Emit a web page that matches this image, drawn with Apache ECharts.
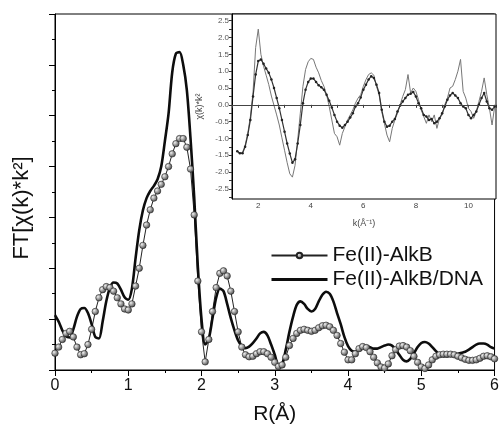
<!DOCTYPE html>
<html><head><meta charset="utf-8">
<script src="https://cdn.jsdelivr.net/npm/echarts@6/dist/echarts.min.js"></script>
<style>html,body{margin:0;padding:0;background:#fff}#c{width:502px;height:435px}</style>
</head><body><div id="c"></div>
<script>
// Main plot: FT magnitude vs R (Å), sampled every 0.05 Å from 0
const rStart = 0, rStep = 0.05;
const alkB = [
0.33,0.45,0.6,0.72,0.76,0.65,0.45,0.3,0.32,0.5,
0.8,1.15,1.42,1.58,1.64,1.62,1.55,1.42,1.3,1.2,
1.18,1.3,1.65,2.0,2.45,2.85,3.15,3.38,3.52,3.65,
3.8,4.0,4.25,4.45,4.55,4.55,4.38,3.95,3.05,1.75,
0.75,0.16,0.6,1.15,1.62,1.9,1.95,1.85,1.55,1.15,
0.75,0.45,0.3,0.26,0.27,0.32,0.36,0.36,0.32,0.25,
0.15,0.07,0.1,0.25,0.48,0.62,0.72,0.78,0.8,0.78,
0.76,0.78,0.83,0.87,0.88,0.85,0.78,0.68,0.52,0.35,
0.2,0.2,0.32,0.42,0.46,0.44,0.36,0.25,0.14,0.06,
0.04,0.12,0.28,0.4,0.47,0.48,0.45,0.38,0.27,0.15,
0.06,0.03,0.1,0.2,0.27,0.3,0.31,0.31,0.31,0.3,
0.27,0.24,0.21,0.19,0.19,0.2,0.23,0.27,0.28,0.26,
0.22];
const alkBDNA = [
1.08,0.95,0.78,0.66,0.64,0.8,1.05,1.2,1.22,1.12,
0.9,0.65,0.62,0.95,1.35,1.62,1.72,1.7,1.58,1.43,
1.38,1.6,2.2,2.75,3.14,3.38,3.52,3.62,3.75,4.0,
4.5,5.04,5.85,6.22,6.25,6.0,5.5,4.55,3.4,2.03,
1.0,0.5,0.62,1.02,1.42,1.6,1.55,1.3,1.02,0.78,
0.58,0.47,0.43,0.46,0.53,0.62,0.72,0.75,0.68,0.5,
0.3,0.1,0.12,0.4,0.75,1.05,1.28,1.35,1.3,1.2,
1.15,1.2,1.35,1.48,1.54,1.5,1.35,1.12,0.9,0.65,
0.47,0.38,0.36,0.4,0.45,0.47,0.45,0.42,0.42,0.45,
0.48,0.5,0.48,0.4,0.3,0.2,0.17,0.22,0.33,0.45,
0.53,0.55,0.52,0.45,0.37,0.3,0.27,0.27,0.29,0.3,
0.32,0.34,0.36,0.4,0.45,0.5,0.52,0.52,0.5,0.45,
0.42];
// Inset: chi(k)*k^2 vs k, sampled every 0.1 from 1.2
const kStart = 1.2, kStep = 0.1;
const chiAlkB = [
-1.38,-1.44,-1.44,-1.25,-0.9,-0.45,0.25,0.9,1.3,1.35,
1.22,1.08,0.95,0.75,0.5,0.2,-0.1,-0.45,-0.8,-1.15,
-1.45,-1.72,-1.62,-1.15,-0.6,0.05,0.45,0.68,0.78,0.78,
0.68,0.58,0.52,0.45,0.3,0.12,-0.08,-0.3,-0.5,-0.62,
-0.68,-0.6,-0.5,-0.38,-0.25,-0.05,0.05,0.22,0.45,0.6,
0.75,0.85,0.8,0.6,0.35,-0.15,-0.5,-0.65,-0.62,-0.5,
-0.42,-0.2,-0.02,0.1,0.2,0.3,0.33,0.38,0.25,0.05,
-0.1,-0.3,-0.35,-0.45,-0.42,-0.55,-0.5,-0.4,-0.25,-0.05,
0.15,0.28,0.35,0.28,0.2,0.05,-0.05,-0.1,-0.3,-0.4,
-0.3,-0.2,0.0,0.2,0.35,0.1,-0.1,-0.15,-0.05];
const chiDNA = [
-1.38,-1.44,-1.42,-1.2,-0.85,-0.35,0.36,1.7,2.25,1.5,
1.15,0.88,0.6,0.26,-0.02,-0.3,-0.6,-0.98,-1.35,-1.72,
-2.05,-2.15,-1.8,-1.05,-0.25,0.55,1.05,1.28,1.38,1.35,
1.12,0.95,0.72,0.55,0.3,-0.05,-0.45,-0.85,-0.95,-1.2,
-0.85,-0.65,-0.45,-0.3,-0.15,0.05,0.2,0.3,0.55,0.75,
0.9,0.95,0.88,0.55,0.3,-0.2,-0.55,-0.9,-1.1,-0.7,
-0.45,-0.25,0.0,0.25,0.45,0.9,0.35,0.5,0.4,0.15,
-0.15,-0.35,-0.55,-0.3,-0.5,-0.3,-0.7,-0.4,-0.3,0.0,
0.2,0.5,0.55,0.75,1.0,1.35,0.4,0.2,-0.1,-0.2,
-0.4,-0.2,0.1,0.4,0.8,0.3,-0.1,-0.6,-0.05];
const legendNames = ['Fe(II)-AlkB', 'Fe(II)-AlkB/DNA'];
const insetXLabels = [2,4,6,8,10];
const insetYLabels = [-2.5,-2.0,-1.5,-1.0,-0.5,0.0,0.5,1.0,1.5,2.0,2.5];
const insetYTicks = [-2.75,-2.5,-2.25,-2.0,-1.75,-1.5,-1.25,-1.0,-0.75,-0.5,-0.25,0,0.25,0.5,0.75,1.0,1.25,1.5,1.75,2.0,2.25,2.5];

const pairs = (arr, s, d) => arr.map((v, i) => [+(s + i * d).toFixed(3), v]);
const FF = '"Liberation Sans", Arial, sans-serif';
const ball = {type:'radial', x:0.35, y:0.35, r:0.75,
  colorStops:[{offset:0,color:'#f0f0f0'},{offset:1,color:'#333'}]};

const chart = echarts.init(document.getElementById('c'), null, {renderer:'canvas'});
chart.setOption({
  animation: false,
  textStyle: {fontFamily: FF},
  grid: [
    {left:55, right:5, top:14, bottom:65, show:true, borderColor:'#000', borderWidth:1, backgroundColor:'transparent'},
    {left:232, right:6, top:14, bottom:236, show:true, borderColor:'#000', borderWidth:1, backgroundColor:'#fff'}
  ],
  legend: {
    left: 265, top: 240, orient: 'vertical', itemWidth: 56, itemHeight: 7, itemGap: 3,
    textStyle: {fontSize: 21, color: '#111', fontFamily: FF},
    data: [
      {name: legendNames[0]},
      {name: legendNames[1], itemStyle: {opacity: 0}, lineStyle: {width: 3, color: '#0d0d0d'}}
    ]
  },
  xAxis: [
    {type:'value', gridIndex:0, min:0, max:6, interval:1,
     axisLine:{lineStyle:{color:'#000', width:1}},
     axisTick:{show:true, inside:false, length:6, lineStyle:{color:'#000'}},
     minorTick:{show:true, splitNumber:2, length:3, lineStyle:{color:'#000'}},
     axisLabel:{fontSize:16, color:'#111', margin:8, fontFamily:FF},
     splitLine:{show:false},
     name:'R(Å)', nameLocation:'middle', nameGap:34,
     nameTextStyle:{fontSize:21, color:'#111', fontFamily:FF}},
    {type:'value', gridIndex:1, min:1, max:11.05, interval:1,
     axisLine:{lineStyle:{color:'#000', width:1}},
     axisTick:{show:true, inside:false, length:3, lineStyle:{color:'#333'}},
     axisLabel:{fontSize:8, color:'#444', margin:3, fontFamily:FF,
       formatter: v => insetXLabels.indexOf(v) >= 0 ? String(v) : ''},
     splitLine:{show:false},
     name:'k(Å⁻¹)', nameLocation:'middle', nameGap:20,
     nameTextStyle:{fontSize:9, color:'#444', fontFamily:FF}}
  ],
  yAxis: [
    {type:'value', gridIndex:0, min:0, max:7, interval:1,
     axisLine:{lineStyle:{color:'#000', width:1}},
     axisTick:{show:true, inside:false, length:6, lineStyle:{color:'#000'}},
     minorTick:{show:true, splitNumber:2, length:3, lineStyle:{color:'#000'}},
     axisLabel:{show:false},
     splitLine:{show:false},
     name:'FT[χ(k)*k²]', nameLocation:'middle', nameGap:22,
     nameTextStyle:{fontSize:22, color:'#111', fontFamily:FF, padding:[0,32,0,0]}},
    {type:'value', gridIndex:1, min:-2.8, max:2.7,
     axisLine:{lineStyle:{color:'#000', width:1}},
     axisTick:{show:true, inside:false, length:3, customValues: insetYTicks, lineStyle:{color:'#333'}},
     axisLabel:{fontSize:8, color:'#555', margin:3, fontFamily:FF, customValues: insetYLabels,
       formatter: v => v.toFixed(1)},
     splitLine:{show:false},
     name:'χ(k)*k²', nameLocation:'middle', nameGap:26,
     nameTextStyle:{fontSize:9, color:'#444', fontFamily:FF}}
  ],
  series: [
    {name:'Fe(II)-AlkB', type:'line', xAxisIndex:0, yAxisIndex:0,
     data: pairs(alkB, rStart, rStep),
     symbol:'circle', symbolSize:6.5, showSymbol:true,
     lineStyle:{color:'#222', width:1},
     itemStyle:{color: ball, borderColor:'#222', borderWidth:0.6}},
    {name:'Fe(II)-AlkB/DNA', type:'line', xAxisIndex:0, yAxisIndex:0,
     data: pairs(alkBDNA, rStart, rStep), smooth:0.3,
     symbol:'none', lineStyle:{color:'#0d0d0d', width:2.6},
     itemStyle:{color:'#0d0d0d'}},
    {name:'insetDNA', type:'line', xAxisIndex:1, yAxisIndex:1,
     data: pairs(chiDNA, kStart, kStep), symbol:'none',
     lineStyle:{color:'#777', width:1},
     markLine:{silent:true, symbol:'none', label:{show:false},
       lineStyle:{color:'#444', width:1, type:'solid'}, data:[{yAxis:0}]}},
    {name:'insetAlkB', type:'line', xAxisIndex:1, yAxisIndex:1,
     data: pairs(chiAlkB, kStart, kStep),
     symbol:'circle', symbolSize:2.5, showSymbol:true,
     lineStyle:{color:'#333', width:1.2},
     itemStyle:{color:'#222'}}
  ]
});
</script></body></html>
